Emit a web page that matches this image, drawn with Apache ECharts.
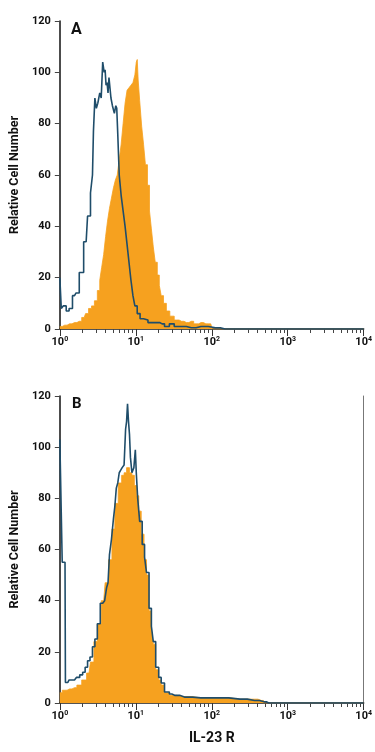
<!DOCTYPE html>
<html>
<head>
<meta charset="utf-8">
<script src="https://cdn.jsdelivr.net/npm/echarts@6/dist/echarts.min.js"></script>
<style>
html,body{margin:0;padding:0;background:#fff;}
#chart{width:375px;height:752px;}
</style>
</head>
<body>
<div id="chart"></div>
<script>
// ---- Data (fluorescence intensity, relative cell number) ----
var panelLabels = ['A', 'B'];
var yTitle = 'Relative Cell Number';
var xTitle = 'IL-23 R';
var yTicks = [0, 20, 40, 60, 80, 100, 120];
var xDecades = [1, 10, 100, 1000, 10000];

// Panel A: isotype control (blue outline)
var aBlueX = [1.00, 1.03, 1.06, 1.16, 1.27, 1.38, 1.56, 1.70, 1.91, 2.22, 2.42, 2.65, 2.73, 2.81, 2.98, 3.07, 3.26, 3.45, 3.56, 3.78, 3.89, 4.00, 4.12, 4.25, 4.37, 4.50, 4.64, 4.78, 5.07, 5.38, 5.53, 5.70, 5.88, 6.23, 6.61, 7.01, 7.45, 7.90, 8.38, 8.90, 9.45, 10.0, 10.9, 11.9, 13.4, 15.6, 19.1, 22.2, 25.7, 29.8, 34.5, 40, 53.7, 72.2, 112, 150, 10000];
var aBlueY = [20, 20, 8, 9, 7, 8, 13, 14, 22, 34, 44, 53, 60, 77, 90, 86, 88, 92, 90, 104, 100, 101, 95, 96, 92, 98, 94, 90, 87, 84, 87, 86, 76, 60, 52, 46, 40, 33, 26, 19, 13, 9, 6, 4, 3.5, 2.5, 2.5, 2, 1, 2, 1, 1, 0.5, 1, 0.5, 0, 0];
// Panel A: stained cells (orange filled)
var aOrangeX = [1.00, 1.16, 1.34, 1.56, 1.80, 2.09, 2.28, 2.50, 2.73, 2.98, 3.26, 3.45, 3.66, 3.89, 4.12, 4.37, 4.64, 4.93, 5.23, 5.53, 5.88, 6.23, 6.61, 7.01, 7.45, 7.90, 8.38, 8.90, 9.45, 10.0, 10.3, 10.6, 10.9, 11.6, 12.3, 13.0, 13.8, 14.7, 15.6, 16.5, 17.5, 18.6, 19.8, 21.0, 22.2, 24.2, 26.4, 29.8, 34.5, 40, 46.4, 53.7, 62.3, 72.2, 83.7, 97, 106, 10000];
var aOrangeY = [1, 1.5, 2, 2.5, 3, 4.5, 6, 8, 9, 11, 15, 19, 24, 29, 36, 42, 47, 51, 55, 58, 60, 66, 72, 80, 88, 93, 94, 95, 96, 99, 104, 105, 97, 89, 79, 72, 64, 56, 46, 39, 32, 26, 21, 17, 13, 10, 7, 5, 3.5, 3, 2.5, 3, 2, 2.5, 2, 2, 0, 0];

// Panel B: isotype control (blue outline)
var bBlueX = [1.00, 1.06, 1.09, 1.17, 1.20, 1.27, 1.38, 1.56, 1.75, 1.91, 2.09, 2.22, 2.42, 2.57, 2.81, 2.98, 3.26, 3.56, 3.78, 4.00, 4.25, 4.37, 4.64, 4.93, 5.23, 5.38, 5.70, 5.88, 6.23, 6.43, 6.80, 7.23, 7.45, 7.67, 7.90, 8.14, 8.38, 8.63, 9.16, 9.72, 10.0, 10.3, 10.9, 11.6, 12.7, 13.4, 14.3, 15.6, 16.5, 17.5, 19.1, 21.0, 22.2, 25.7, 29.8, 32.5, 43.7, 72, 119, 235, 366, 490, 560, 10000];
var bBlueY = [103, 103, 55, 55, 8, 8, 9, 9, 10, 11, 12, 14, 16.5, 18, 22, 25, 31, 39, 39, 40, 45, 47, 58, 64, 72, 77, 84, 86, 90, 91, 92, 93, 107, 110, 117, 110, 105, 96, 90, 92, 99, 90, 80, 71, 62, 57, 51, 37, 30, 24, 14, 10, 7.8, 4.3, 3.5, 3, 2.3, 2, 2, 1.5, 1, 0.5, 0, 0];
// Panel B: stained cells (orange filled)
var bOrangeX = [1.00, 1.16, 1.34, 1.56, 1.80, 2.09, 2.42, 2.65, 2.98, 3.26, 3.78, 4.12, 4.64, 5.07, 5.53, 6.23, 6.80, 7.23, 7.90, 8.63, 9.16, 10.0, 10.6, 11.3, 12.3, 13.4, 14.3, 15.6, 16.5, 17.5, 19.1, 21.0, 22.2, 25.7, 29.8, 40, 72, 130, 235, 366, 450, 510, 10000];
var bOrangeY = [4, 5, 5.5, 6, 7, 9, 11.7, 16, 24, 31, 40, 47, 56, 68, 78, 86, 89, 90, 92, 90, 89, 85, 81, 75, 66, 56, 50, 36, 29, 23, 13, 9, 7, 4, 3, 2.5, 2, 2, 1.5, 1.5, 1, 0, 0];

// ---- Chart ----
var ORANGE = '#f6a11f';
var BLUE = '#1f4d6a';
var FONT = 'Roboto';

function pairs(xs, ys) { return xs.map(function (x, i) { return [x, ys[i]]; }); }

var minorTicks = [];
for (var d = 0; d < 4; d++) {
  for (var k = 2; k <= 9; k++) minorTicks.push(d + Math.log10(k));
}

var grids = [
  { left: 55, top: 21, width: 312, height: 308 },
  { left: 55, top: 396, width: 311, height: 307 }
];

function logAxis(gi) {
  return {
    type: 'log', logBase: 10, min: 1, max: 10000, gridIndex: gi, position: 'bottom',
    axisLine: { show: true, onZero: false, lineStyle: { color: '#1b1b1b', width: 1.5 } },
    axisTick: { show: true, length: 7, lineStyle: { color: '#333', width: 1 } },
    splitLine: { show: false },
    axisLabel: {
      margin: 7,
      formatter: function (v) { return '{b|10}{s|' + Math.round(Math.log10(v)) + '}'; },
      rich: {
        b: { fontFamily: FONT, fontWeight: 'bold', fontSize: 11, color: '#111' },
        s: { fontFamily: FONT, fontWeight: 'bold', fontSize: 7, color: '#111', verticalAlign: 'top', padding: [0, 0, 5, 0] }
      }
    },
    name: gi === 1 ? xTitle : '',
    nameLocation: 'middle', nameGap: 28,
    nameTextStyle: { fontFamily: FONT, fontWeight: 'bold', fontSize: 14, color: '#111' }
  };
}
function minorAxis(gi) {
  return {
    type: 'value', min: 0, max: 4, gridIndex: gi, position: 'bottom',
    axisLine: { show: false, onZero: false },
    axisTick: { show: true, inside: false, length: 4, customValues: minorTicks, lineStyle: { color: '#444', width: 1 } },
    axisLabel: { show: false },
    splitLine: { show: false }
  };
}
function yAxis(gi) {
  return {
    type: 'value', min: 0, max: 120, interval: 20, gridIndex: gi, position: 'left',
    axisLine: { show: true, onZero: false, lineStyle: { color: '#111', width: 1.5 } },
    axisTick: { show: true, length: 5, lineStyle: { color: '#444', width: 1 } },
    splitLine: { show: false },
    axisLabel: {
      margin: 9, fontFamily: FONT, fontWeight: 'bold', fontSize: 11, color: '#111',
      formatter: function (v) { return yTicks.indexOf(v) >= 0 ? String(v) : ''; }
    },
    name: yTitle, nameLocation: 'middle', nameGap: 36, nameRotate: 90,
    nameTextStyle: { fontFamily: FONT, fontWeight: 'bold', fontSize: 12.5, color: '#111' }
  };
}

function lineSeries(xi, yi, xs, ys, filled) {
  var s = {
    type: 'line', xAxisIndex: xi, yAxisIndex: yi, step: 'middle',
    symbol: 'none', data: pairs(xs, ys), animation: false, silent: true
  };
  if (filled) {
    s.lineStyle = { color: ORANGE, width: 0.8 };
    s.areaStyle = { color: ORANGE, opacity: 1 };
    s.z = 2;
  } else {
    s.lineStyle = { color: BLUE, width: 1.6 };
    s.z = 3;
  }
  return s;
}

var option = {
  backgroundColor: '#ffffff',
  animation: false,
  title: [
    { text: panelLabels[0], left: 66, top: 17, textStyle: { fontFamily: FONT, fontWeight: 'bold', fontSize: 16, color: '#111' } },
    { text: panelLabels[1], left: 67, top: 392, textStyle: { fontFamily: FONT, fontWeight: 'bold', fontSize: 15, color: '#111' } }
  ],
  grid: grids,
  xAxis: [logAxis(0), minorAxis(0), logAxis(1), minorAxis(1)],
  yAxis: [
    yAxis(0), yAxis(1),
    { type: 'value', min: 0, max: 120, gridIndex: 1, position: 'right',
      axisLine: { show: true, onZero: false, lineStyle: { color: '#777', width: 1 } },
      axisTick: { show: false }, axisLabel: { show: false }, splitLine: { show: false } }
  ],
  series: [
    lineSeries(0, 0, aOrangeX, aOrangeY, true),
    lineSeries(0, 0, aBlueX, aBlueY, false),
    lineSeries(2, 1, bOrangeX, bOrangeY, true),
    lineSeries(2, 1, bBlueX, bBlueY, false)
  ]
};

var chart = echarts.init(document.getElementById('chart'), null, { renderer: 'canvas' });
chart.setOption(option);
</script>
</body>
</html>
